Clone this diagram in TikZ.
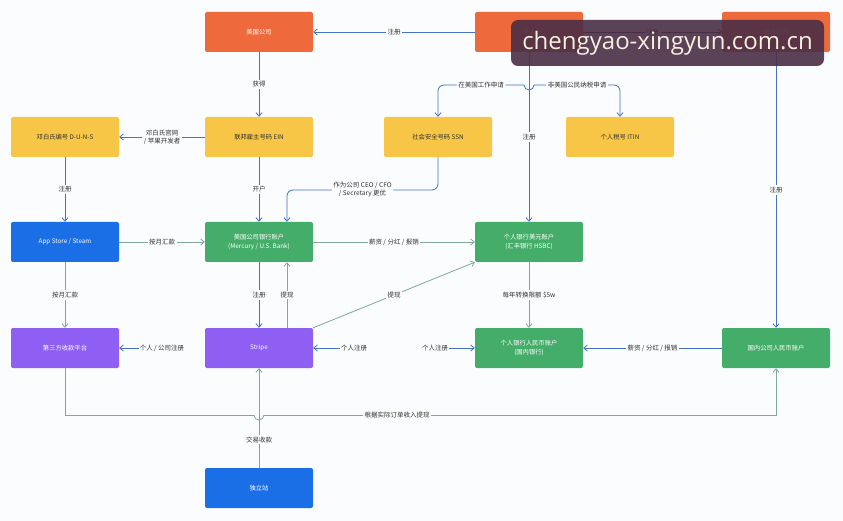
\documentclass[tikz,border=0pt]{standalone}
\usepackage{fontspec}
\setmainfont{Noto Sans CJK SC}
\newfontfamily\wmfont{Open Sans}
\usetikzlibrary{arrows.meta}
\definecolor{bg}{HTML}{FAFCFD}
\definecolor{corange}{HTML}{EE6A3C}
\definecolor{cyellow}{HTML}{F8C646}
\definecolor{cblue}{HTML}{1B6FE6}
\definecolor{cgreen}{HTML}{45AD6A}
\definecolor{cpurple}{HTML}{8F5EF2}
\definecolor{lblue}{HTML}{4472C4}
\definecolor{lteal}{HTML}{7FA89B}
\definecolor{ltext}{HTML}{333333}
\definecolor{wmbg}{HTML}{4A2E45}
\definecolor{wmtext}{HTML}{F4EFDF}
\tikzset{
  box/.style={rectangle, rounded corners=2pt, minimum width=108pt, minimum height=40pt,
    inner sep=1pt, align=center, font=\fontsize{6.3}{8.5}\selectfont, text=white},
  obox/.style={box, fill=corange},
  ybox/.style={box, fill=cyellow, text=ltext},
  bbox/.style={box, fill=cblue},
  gbox/.style={box, fill=cgreen},
  pbox/.style={box, fill=cpurple},
  lbl/.style={fill=bg, inner sep=1.5pt, align=center, font=\fontsize{6.5}{8}\selectfont, text=ltext},
  ftext/.style={inner sep=1pt, font=\fontsize{6.5}{8}\selectfont, text=ltext},
  bline/.style={draw=lblue, line width=0.8pt, -{Straight Barb[length=3.5pt,width=6pt]}},
  tline/.style={draw=lteal, line width=0.8pt, -{Straight Barb[length=3.5pt,width=6pt]}},
  bplain/.style={draw=lblue, line width=0.8pt},
  tplain/.style={draw=lteal, line width=0.8pt},
}
\begin{document}
\begin{tikzpicture}[x=1pt,y=-1pt]
\useasboundingbox (0,0) rectangle (843,521);
\fill[bg] (0,0) rectangle (843,521);

% nodes
\node[obox] (usco) at (259,32) {美国公司};
\node[obox] (ind) at (529,32) {个人};
\node[obox] (cnco) at (776,32) {国内公司};
\node[ybox] (duns) at (65,137) {邓白氏编号 D-U-N-S};
\node[ybox] (ein) at (259,137) {联邦雇主号码 EIN};
\node[ybox] (ssn) at (438,137) {社会安全号码 SSN};
\node[ybox] (itin) at (620,137) {个人税号 ITIN};
\node[bbox] (app) at (65,242) {App Store / Steam};
\node[gbox] (bank) at (259,242) {美国公司银行账户\\(Mercury / U.S. Bank)};
\node[gbox] (hsbc) at (529,242) {个人银行美元账户\\(汇丰银行 HSBC)};
\node[pbox] (tp) at (65,348) {第三方收款平台};
\node[pbox] (stripe) at (259,348) {Stripe};
\node[gbox] (rmb) at (529,348) {个人银行人民币账户\\(国内银行)};
\node[gbox] (cnrmb) at (776,348) {国内公司人民币账户};
\node[bbox] (site) at (259,488) {独立站};

% free texts
\node[ftext] (t1) at (162,348) {个人 / 公司注册};
\node[ftext] (t2) at (354,348) {个人注册};
\node[ftext] (t3) at (435,348) {个人注册};

% coordinates
\coordinate (y85) at (0,85);
\coordinate (y190) at (0,190);
\coordinate (y415) at (0,415);
\coordinate (x287) at (287,0);
\coordinate (hopL) at (524,85);
\coordinate (hopR) at (534,85);
\coordinate (ssnturn) at (ssn.north |- y85);
\coordinate (itinturn) at (itin.north |- y85);
\coordinate (ssnbot) at (ssn.south |- y190);
\coordinate (bankin) at (x287 |- y190);
\coordinate (bankin2) at (x287 |- bank.north);
\coordinate (tpturn) at (tp.south |- y415);
\coordinate (cnturn) at (cnrmb.south |- y415);
\coordinate (hop2L) at (254,415);
\coordinate (hop2R) at (264,415);
\coordinate (stripeR) at (x287 |- stripe.north);
\coordinate (bankR) at (x287 |- bank.south);

% top row
\draw[bline] (ind.west) -- node[lbl]{注册} (usco.east);
\draw[bline, draw=wmbg] (ind.east) -- node[lbl]{注册} (cnco.west);
\draw[bline] (usco.south) -- node[lbl]{获得} (ein.north);
\draw[bline] (ein.west) -- node[lbl]{邓白氏官网\\/ 苹果开发者} (duns.east);
\draw[bline] (ind.south) -- node[lbl, pos=0.5]{注册} (hsbc.north);
\draw[bline, rounded corners=6pt] (hopL) -- node[lbl]{在美国工作申请} (ssnturn) -- (ssn.north);
\draw[bline, rounded corners=6pt] (hopR) -- node[lbl]{非美国公民纳税申请} (itinturn) -- (itin.north);
\draw[bplain] (hopL) arc (180:0:5);
\draw[bline] (cnco.south) -- node[lbl]{注册} (cnrmb.north);

% second row
\draw[bline] (duns.south) -- node[lbl]{注册} (app.north);
\draw[bline] (ein.south) -- node[lbl]{开户} (bank.north);
\draw[bline, rounded corners=6pt] (ssn.south) -- (ssnbot) -- node[lbl]{作为公司 CEO / CFO\\/ Secretary 更优} (bankin) -- (bankin2);

% third row
\draw[tline] (app.east) -- node[lbl]{按月汇款} (bank.west);
\draw[tline] (bank.east) -- node[lbl]{薪资 / 分红 / 报销} (hsbc.west);
\draw[tline] (app.south) -- node[lbl]{按月汇款} (tp.north);
\draw[bline] (bank.south) -- node[lbl]{注册} (stripe.north);
\draw[tline] (stripeR) -- node[lbl]{提现} (bankR);
\draw[tline] (stripe.north east) -- node[lbl, pos=0.5]{提现} (hsbc.south west);
\draw[tline] (hsbc.south) -- node[lbl]{每年转换限额 \$5w} (rmb.north);

% fourth row
\draw[bline] (t1.west) -- (tp.east);
\draw[bline] (t2.west) -- (stripe.east);
\draw[bline] (t3.east) -- (rmb.west);
\draw[bline] (cnrmb.west) -- node[lbl]{薪资 / 分红 / 报销} (rmb.east);

% bottom
\draw[tplain] (tp.south) -- (tpturn) -- (hop2L);
\draw[tplain] (hop2L) arc (180:0:5);
\draw[tline] (hop2R) -- node[lbl, pos=0.26]{根据实际订单收入提现} (cnturn) -- (cnrmb.south);
\draw[tline] (site.north) -- node[lbl, pos=0.28]{交易收款} (stripe.south);

% watermark
\node[fill=wmbg, fill opacity=0.9, text opacity=1, text=wmtext, rounded corners=7pt,
  minimum width=313pt, minimum height=46pt, inner sep=0pt,
  font=\wmfont\fontsize{24}{26}\selectfont] (wm) at (667.5,43) {chengyao-xingyun.com.cn};
\end{tikzpicture}
\end{document}
